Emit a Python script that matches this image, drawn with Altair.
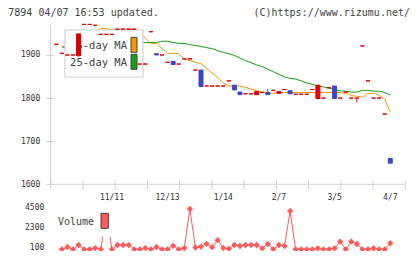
import altair as alt
import pandas as pd

# ---------------- data ----------------
candle_idx = list(range(61))
opens = [1925, 1904, 1900, 1900, 1898, 1971, 1971, 1969, 1948, 1948,
         1948, 1960, 1960, 1960, 1960, 1879, 1879, 1954, 1903, 1900,
         1883, 1885, 1879, 1891, 1891, 1865, 1865, 1828, 1828, 1828,
         1828, 1840, 1830, 1814, 1810, 1810, 1808, 1813, 1813, 1818,
         1811, 1820, 1817, 1809, 1809, 1809, 1820, 1799, 1800, 1824,
         1828, 1800, 1814, 1800, 1800, 1921, 1840, 1800, 1800, 1763,
         1660]
closes = [1925, 1904, 1900, 1900, 1949, 1971, 1971, 1969, 1948, 1948,
          1948, 1960, 1960, 1960, 1960, 1879, 1879, 1954, 1900, 1900,
          1883, 1878, 1879, 1891, 1891, 1865, 1827, 1828, 1828, 1828,
          1828, 1840, 1819, 1808, 1810, 1810, 1815, 1813, 1808, 1818,
          1815, 1820, 1810, 1809, 1809, 1809, 1820, 1830, 1800, 1824,
          1799, 1800, 1814, 1800, 1800, 1921, 1840, 1800, 1800, 1763,
          1649]
wick_idx = [26, 38, 54]
wick_low = [1825, 1808, 1790]
wick_high = [1865, 1821, 1800]

ma_idx = list(range(1, 61))
ma5 = [1922, 1914, 1908, 1915, 1928, 1942, 1953, 1962, 1961, 1959,
       1957, 1957, 1958, 1960, 1948, 1940, 1927, 1927, 1915, 1904,
       1904, 1903, 1890, 1887, 1883, 1880, 1869, 1858, 1848, 1835,
       1828, 1828, 1828, 1825, 1821, 1817, 1815, 1812, 1811, 1813,
       1813, 1813, 1813, 1813, 1813, 1813, 1813, 1813, 1813, 1813,
       1813, 1811, 1806, 1804, 1802, 1811, 1811, 1807, 1798, 1768]
ma25 = [1918, 1919, 1920, 1921, 1922, 1923, 1924, 1925, 1926, 1927,
        1928, 1929, 1929, 1929, 1929, 1929, 1929, 1929, 1932, 1932,
        1929, 1927, 1927, 1924, 1922, 1920, 1917, 1915, 1910, 1906,
        1903, 1899, 1893, 1887, 1882, 1877, 1873, 1867, 1861, 1855,
        1849, 1846, 1844, 1840, 1835, 1832, 1828, 1826, 1823, 1820,
        1817, 1816, 1814, 1814, 1818, 1818, 1816, 1816, 1813, 1807]

volume = [100, 350, 100, 570, 100, 100, 230, 100, 4000, 100,
          570, 570, 570, 100, 100, 230, 100, 350, 100, 100,
          480, 100, 230, 4500, 300, 400, 700, 330, 1100, 250,
          150, 570, 460, 570, 570, 570, 210, 680, 100, 570,
          460, 4280, 100, 100, 100, 100, 210, 100, 100, 210,
          930, 100, 930, 680, 100, 100, 210, 100, 100, 760]

date_idx = [10, 20, 30, 40, 50, 60]
date_labels = ["11/11", "12/13", "1/14", "2/7", "3/5", "4/7"]
tick_pos = [-1, 4.79, 10.58, 16.37, 22.16, 27.95, 33.75, 39.54, 45.33, 51.12, 56.91, 62.7]
price_ticks = [1600, 1700, 1800, 1900]
vol_ticks = [100, 2300, 4500]

title_left = "7894 04/07 16:53 updated."
title_right = "(C)https://www.rizumu.net/"

# ---------------- styles ----------------
RED = "#dd0000"
BLUE = "#3c46c4"
ORANGE = "#f39800"
GREEN = "#14a014"
VOLC = "#ff5a5a"
GRID = "#d0d0d0"
TXT = "#333333"
MONO = "DejaVu Sans Mono"
W, H = 354.6, 226

XS = alt.Scale(domain=[-1, 62.7], nice=False, zero=False, padding=0)
PS = alt.Scale(domain=[1600, 1969.6], range=[159.3, 0], nice=False, zero=False, padding=0)
VS = alt.Scale(domain=[100, 4500], range=[224.3, 184], nice=False, zero=False, padding=0)
AX = alt.Axis(values=price_ticks, format="d", title=None, grid=False, domain=False,
              offset=-2.6, tickSize=7.6, tickColor=GRID, labelFont=MONO,
              labelFontSize=8, labelColor=TXT, labelPadding=6)


def px(f):
    return alt.X(f, type="quantitative", scale=XS, axis=None)


def py(f):
    return alt.Y(f, type="quantitative", scale=PS, axis=AX)


def vy(f):
    return alt.Y(f, type="quantitative", scale=VS, axis=None)


cdf = pd.DataFrame({"i": candle_idx, "o": opens, "c": closes})
cdf["dir"] = ["down" if c < o else "up" for o, c in zip(opens, closes)]
wdf = pd.DataFrame({"i": wick_idx, "lo": wick_low, "hi": wick_high})
wdf["dir"] = [cdf.loc[i, "dir"] for i in wick_idx]
mdf = pd.DataFrame({"i": ma_idx, "ma5": ma5, "ma25": ma25})
vdf = pd.DataFrame({"i": ma_idx, "v": volume})
ddf = pd.DataFrame({"i": date_idx, "t": date_labels})
tdf = pd.DataFrame({"i": tick_pos})
axdf = pd.DataFrame({"x0": [-1], "x1": [62.7], "p0": [1600], "p1": [1969.6]})
vtdf = pd.DataFrame({"v": vol_ticks, "t": [str(v) for v in vol_ticks]})
one = pd.DataFrame({"a": [0]})

col_scale = alt.Scale(domain=["up", "down"], range=[RED, BLUE])

yaxis_line = alt.Chart(axdf).mark_rule(color=GRID, strokeWidth=1).encode(
    x=px("x0"), y=py("p0"), y2="p1")
xaxis_line = alt.Chart(axdf).mark_rule(color=GRID, strokeWidth=1).encode(
    x=px("x0"), x2="x1", y=py("p0"))
xticks = alt.Chart(tdf).mark_rule(color=GRID, strokeWidth=1).encode(
    x=px("i"), y=alt.value(155.3), y2=alt.value(164.3))
xlabels = alt.Chart(ddf).mark_text(font=MONO, fontSize=8, color=TXT,
                                   baseline="middle").encode(
    x=px("i"), y=alt.value(173), text="t:N")

line5 = alt.Chart(mdf).mark_line(color=ORANGE, strokeWidth=1).encode(
    x=px("i"), y=py("ma5"))
line25 = alt.Chart(mdf).mark_line(color=GREEN, strokeWidth=1).encode(
    x=px("i"), y=py("ma25"))

leg_box = alt.Chart(one).mark_rect(fill="white", stroke=GRID, strokeWidth=1.2).encode(
    x=alt.value(14.3), x2=alt.value(92.3), y=alt.value(5), y2=alt.value(52))
leg_t5 = alt.Chart(one).mark_text(font=MONO, fontSize=10.5, color="#444",
                                  align="right", baseline="middle").encode(
    x=alt.value(76.3), y=alt.value(21), text=alt.value("5-day MA"))
leg_t25 = alt.Chart(one).mark_text(font=MONO, fontSize=10.5, color="#444",
                                   align="right", baseline="middle").encode(
    x=alt.value(76.3), y=alt.value(38.3), text=alt.value("25-day MA"))
leg_s5 = alt.Chart(one).mark_rect(fill=ORANGE, stroke="#444", strokeWidth=1).encode(
    x=alt.value(80.3), x2=alt.value(86.3), y=alt.value(12.3), y2=alt.value(27.3))
leg_s25 = alt.Chart(one).mark_rect(fill=GREEN, stroke="#444", strokeWidth=1).encode(
    x=alt.value(80.3), x2=alt.value(86.3), y=alt.value(29.3), y2=alt.value(44.3))

wicks = alt.Chart(wdf).mark_rule(strokeWidth=1).encode(
    x=px("i"), y=py("lo"), y2="hi",
    color=alt.Color("dir:N", scale=col_scale, legend=None))
bodies = alt.Chart(cdf).mark_bar(size=4, strokeWidth=1).encode(
    x=px("i"), y=py("o"), y2="c",
    color=alt.Color("dir:N", scale=col_scale, legend=None),
    stroke=alt.Stroke("dir:N", scale=col_scale, legend=None))

t_left = alt.Chart(one).mark_text(font=MONO, fontSize=10, color="#444",
                                  align="left", baseline="middle").encode(
    x=alt.value(-42.4), y=alt.value(-12.5), text=alt.value(title_left))
t_right = alt.Chart(one).mark_text(font=MONO, fontSize=10, color="#444",
                                   align="right", baseline="middle").encode(
    x=alt.value(359.3), y=alt.value(-12.5), text=alt.value(title_right))

price = alt.layer(yaxis_line, xaxis_line, xticks, xlabels, line5, line25,
                  leg_box, leg_t5, leg_t25, leg_s5, leg_s25, wicks, bodies,
                  t_left, t_right)

vline = alt.Chart(vdf).mark_line(color=VOLC, strokeWidth=1).encode(
    x=px("i"), y=vy("v"))
vpts = alt.Chart(vdf).mark_point(shape="diamond", filled=True, size=40,
                                 color=VOLC, opacity=1).encode(
    x=px("i"), y=vy("v"))
vlabels = alt.Chart(vtdf).mark_text(font=MONO, fontSize=8, color=TXT,
                                    align="right", baseline="middle", dy=-1).encode(
    x=alt.value(-6.4), y=vy("v"), text="t:N")
vleg_bg = alt.Chart(one).mark_rect(fill="white").encode(
    x=alt.value(4.3), x2=alt.value(61.3), y=alt.value(181), y2=alt.value(211.7))
vleg_t = alt.Chart(one).mark_text(font=MONO, fontSize=10, color="#444",
                                  align="right", baseline="middle").encode(
    x=alt.value(43.3), y=alt.value(197.3), text=alt.value("Volume"))
vleg_s = alt.Chart(one).mark_rect(fill=VOLC, stroke="#444", strokeWidth=1).encode(
    x=alt.value(50.3), x2=alt.value(57.6), y=alt.value(188.3), y2=alt.value(203.3))

vol = alt.layer(vline, vpts, vlabels, vleg_bg, vleg_t, vleg_s)

chart = alt.layer(price, vol).resolve_scale(y="independent").properties(
    width=W, height=H,
    autosize=alt.AutoSizeParams(type="none"),
    padding={"left": 42.7, "top": 17, "right": 6.7, "bottom": 0},
    background="white",
).configure_view(strokeWidth=0)

chart.save("out.html", embed_options={"renderer": "svg", "actions": False})
